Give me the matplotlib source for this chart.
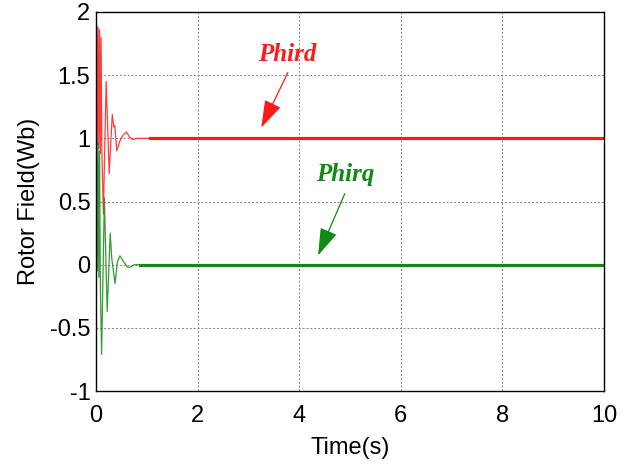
import matplotlib
matplotlib.use("Agg")
import matplotlib.pyplot as plt

# Transient
t_d = [0.0, 0.01, 0.025, 0.04, 0.055, 0.07, 0.085, 0.10, 0.115, 0.145, 0.20, 0.26, 0.32, 0.35, 0.37, 0.41, 0.47, 0.54, 0.60, 0.66, 0.72, 0.80, 0.90, 1.06]
phird = [1.0, 1.9, 0.95, 1.88, 0.92, 1.86, 0.88, 1.8, 0.9, 0.40, 1.45, 0.72, 1.19, 1.09, 1.1, 0.90, 0.98, 1.03, 1.05, 1.01, 0.99, 1.0, 1.0, 1.0]
t_q = [0.0, 0.01, 0.025, 0.04, 0.055, 0.07, 0.085, 0.11, 0.165, 0.22, 0.28, 0.31, 0.375, 0.42, 0.47, 0.55, 0.62, 0.67, 0.75, 0.87]
phirq = [0.0, 0.98, -0.05, 0.97, -0.1, 0.9, -0.15, -0.71, 0.53, -0.37, 0.25, 0.05, -0.15, 0.02, 0.07, 0.02, -0.02, -0.02, 0.0, 0.0]
# Steady state
t_ss_d = [1.06, 10.0]
phird_ss = [1.0, 1.0]
t_ss_q = [0.87, 10.0]
phirq_ss = [0.0, 0.0]

xticks = [0, 2, 4, 6, 8, 10]
yticks = [-1, -0.5, 0, 0.5, 1, 1.5, 2]
ytick_labels = ["-1", "-0.5", "0", "0.5", "1", "1.5", "2"]

RED = "#ff1a1a"
GREEN = "#108a10"

plt.rcParams['font.family'] = ['Liberation Sans', 'DejaVu Sans']
fig = plt.figure(figsize=(6.3, 4.66), dpi=100)
ax = fig.add_axes([96/630, 75/466, 508/630, 379/466])

ax.plot(t_d, phird, color=RED, lw=0.9, alpha=0.85)
ax.plot(t_ss_d, phird_ss, color=RED, lw=2.3)
ax.plot(t_q, phirq, color=GREEN, lw=0.9, alpha=0.85)
ax.plot(t_ss_q, phirq_ss, color=GREEN, lw=2.3)

ax.set_xlim(0, 10)
ax.set_ylim(-1, 2)
ax.set_xticks(xticks)
ax.set_yticks(yticks)
ax.set_yticklabels(ytick_labels)
ax.tick_params(axis='both', direction='in', length=0, labelsize=17)
ax.tick_params(axis='x', pad=10)
ax.tick_params(axis='y', pad=4)
ax.grid(True, color='#808080', linestyle=(0, (2, 2)), linewidth=0.7)
for s in ax.spines.values():
    s.set_color('black')
    s.set_linewidth(1.0)

ax.set_xlabel("Time(s)", fontsize=17, labelpad=7)
ax.set_ylabel("Rotor Field(Wb)", fontsize=17, labelpad=7)

serif = ['Liberation Serif', 'DejaVu Serif']
ax.text(3.76, 1.667, "Phird", color=RED, fontsize=18, fontweight='bold', fontstyle='italic',
        family=serif, ha='center', va='center')
ax.annotate('', xy=(3.23, 1.066), xytext=(3.80, 1.54),
            arrowprops=dict(arrowstyle='-|>,head_length=1.7,head_width=0.55', color=RED, lw=0.9))
ax.text(4.90, 0.71, "Phirq", color=GREEN, fontsize=18, fontweight='bold', fontstyle='italic',
        family=serif, ha='center', va='center')
ax.annotate('', xy=(4.35, 0.053), xytext=(4.92, 0.583),
            arrowprops=dict(arrowstyle='-|>,head_length=1.7,head_width=0.55', color=GREEN, lw=0.9))

fig.savefig("out.png", dpi=100)
